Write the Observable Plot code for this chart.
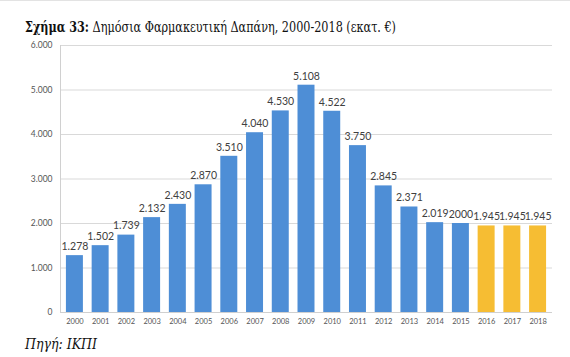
<!DOCTYPE html>
<html>
<head>
<meta charset="utf-8">
<script src="https://cdn.jsdelivr.net/npm/d3@7"></script>
<script src="https://cdn.jsdelivr.net/npm/@observablehq/plot@0.6"></script>
<style>
  html, body { margin: 0; padding: 0; background: #fff; }
  #wrap { position: relative; width: 570px; height: 357px; overflow: hidden; border-top: 1px solid #e3e3e3; box-sizing: border-box; }
  #title { position: absolute; left: 25px; top: 17px; font-family: "DejaVu Serif", serif; font-size: 15.5px; line-height: 18px; color: #111; white-space: nowrap; transform-origin: 0 50%; }
  #chart { position: absolute; left: 0; top: 35px; }
  #caption { position: absolute; left: 25px; top: 334px; font-family: "DejaVu Serif", serif; font-style: italic; font-size: 14px; line-height: 18px; color: #111; white-space: nowrap; transform-origin: 0 50%; }
</style>
</head>
<body>
<div id="wrap">
  <div id="title"><b>Σχήμα 33:</b> Δημόσια Φαρμακευτική Δαπάνη, 2000-2018 (εκατ. €)</div>
  <div id="chart"></div>
  <div id="caption">Πηγή: ΙΚΠΙ</div>
</div>
<script>
const years = ["2000","2001","2002","2003","2004","2005","2006","2007","2008","2009","2010","2011","2012","2013","2014","2015","2016","2017","2018"];
const values = [1278,1502,1739,2132,2430,2870,3510,4040,4530,5108,4522,3750,2845,2371,2019,2000,1945,1945,1945];
const valueLabels = ["1.278","1.502","1.739","2.132","2.430","2.870","3.510","4.040","4.530","5.108","4.522","3.750","2.845","2.371","2.019","2000","1.945","1.945","1.945"];
const highlightYears = ["2016","2017","2018"];
const yTicks = [0,1000,2000,3000,4000,5000,6000];
const yTickLabels = ["0","1.000","2.000","3.000","4.000","5.000","6.000"];
const groupNames = ["base","highlight"];
const groupColors = ["#4e8ed6","#f6bd33"];

const data = years.map((y, i) => ({
  year: y,
  value: values[i],
  label: valueLabels[i],
  group: highlightYears.includes(y) ? "highlight" : "base"
}));

const chart = Plot.plot({
  width: 570,
  height: 296,
  marginLeft: 60,
  marginRight: 18,
  marginTop: 9,
  marginBottom: 20,
  style: { background: "transparent" },
  x: { domain: years, paddingInner: 0.34, paddingOuter: 0.23, round: false, label: null },
  y: { domain: [0, 6000], label: null },
  color: { domain: groupNames, range: groupColors },
  marks: [
    Plot.gridY(yTicks, { stroke: "#d9d9d9", strokeOpacity: 1, strokeWidth: 1 }),
    Plot.axisY(yTicks, {
      tickSize: 0, tickPadding: 8,
      tickFormat: d => yTickLabels[yTicks.indexOf(d)],
      fontSize: 8.5, fill: "#555", fontFamily: "Lato, 'DejaVu Sans', sans-serif",
      label: null
    }),
    Plot.axisX({
      tickSize: 0, tickPadding: 6, fontSize: 7.5, fill: "#555",
      fontFamily: "Lato, 'DejaVu Sans', sans-serif", label: null
    }),
    Plot.barY(data, { x: "year", y: "value", fill: "group" }),
    Plot.ruleY([0], { stroke: "#d0d0d0" }),
    Plot.frame({ anchor: "left", stroke: "#d0d0d0" }),
    Plot.text(data, {
      x: "year", y: "value", text: "label", dy: -9,
      fontSize: 10.5, fill: "#404040", fontFamily: "Lato, 'DejaVu Sans', sans-serif"
    })
  ]
});
document.getElementById("chart").appendChild(chart);

// compress title and caption horizontally to the reference's widths
function fit(id, target) {
  const el = document.getElementById(id);
  const w = el.getBoundingClientRect().width;
  if (w > 0) el.style.transform = "scaleX(" + (target / w) + ")";
}
fit("title", 371);
fit("caption", 72);
</script>
</body>
</html>
